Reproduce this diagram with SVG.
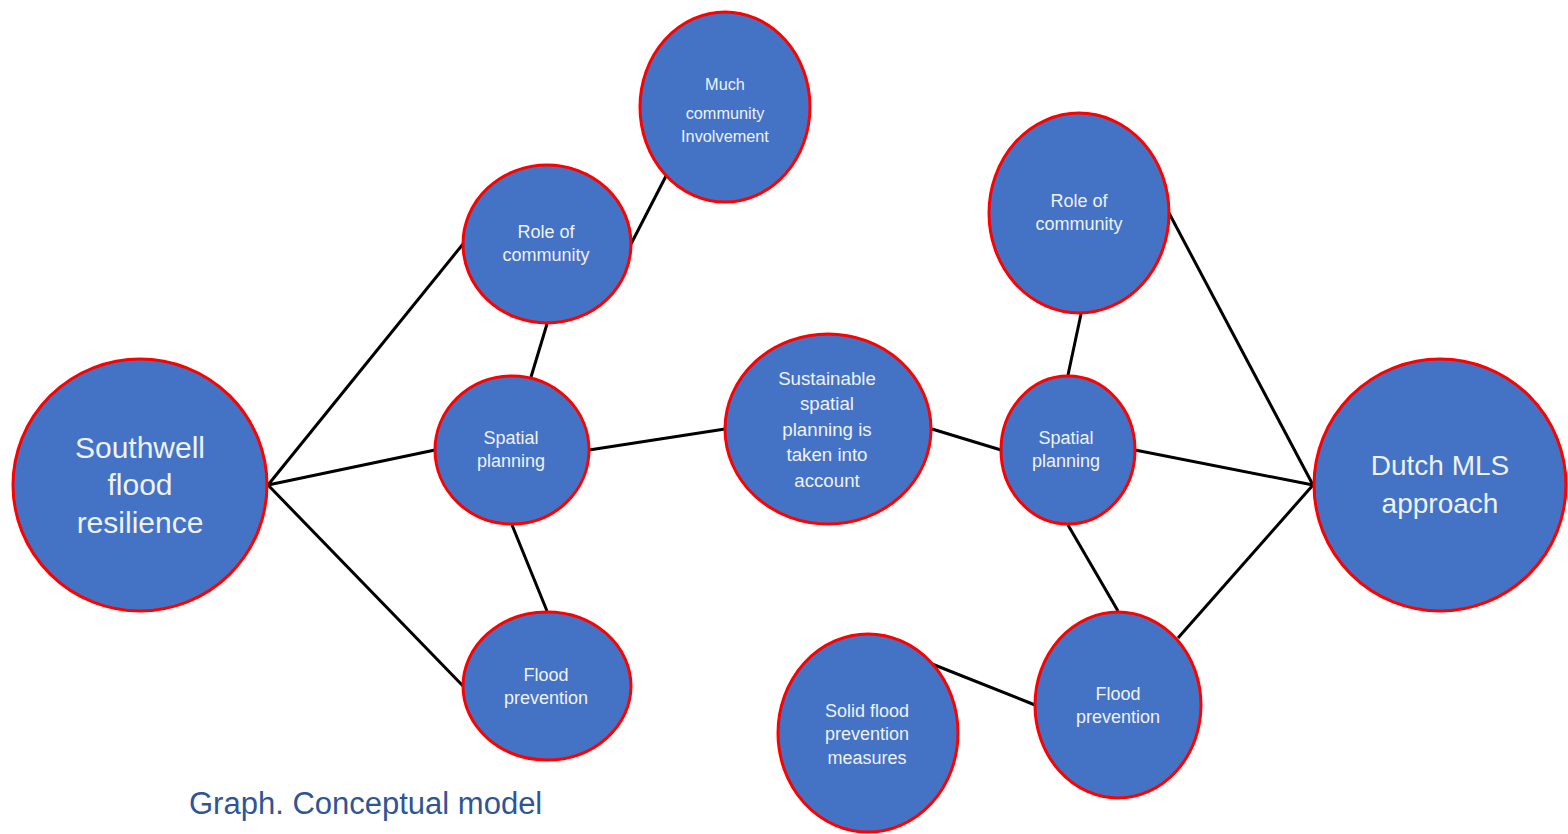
<svg xmlns="http://www.w3.org/2000/svg" width="1568" height="834" viewBox="0 0 1568 834">
<style>
.n{fill:#4472c4;stroke:#ff0000;stroke-width:3}
.t{font-family:"Liberation Sans",Arial,sans-serif;fill:#eef2fb;text-anchor:middle;dominant-baseline:central}
.e{stroke:#000;stroke-width:3;fill:none}
</style>
<rect width="1568" height="834" fill="#fff"/>
<g id="connectors">
<line class="e" x1="268" y1="485" x2="463" y2="244"/>
<line class="e" x1="268" y1="485" x2="435" y2="450"/>
<line class="e" x1="268" y1="485" x2="463" y2="686"/>
<line class="e" x1="631" y1="244" x2="666" y2="176"/>
<line class="e" x1="547" y1="324" x2="531" y2="377"/>
<line class="e" x1="512" y1="525" x2="547" y2="611"/>
<line class="e" x1="589" y1="450" x2="725" y2="429"/>
<line class="e" x1="932" y1="429" x2="1001" y2="450"/>
<line class="e" x1="1081" y1="314" x2="1068" y2="375"/>
<line class="e" x1="1169" y1="213" x2="1313" y2="485"/>
<line class="e" x1="1135" y1="450" x2="1313" y2="485"/>
<line class="e" x1="1068" y1="525" x2="1118" y2="611"/>
<line class="e" x1="1178" y1="638" x2="1313" y2="485"/>
<line class="e" x1="932" y1="664" x2="1035" y2="705"/>
</g>
<g id="southwell">
<ellipse class="n" cx="140" cy="485" rx="127" ry="126"/>
<text class="t" font-size="30"><tspan x="140" y="447">Southwell</tspan><tspan x="140" y="484">flood</tspan><tspan x="140" y="522">resilience</tspan></text>
</g>
<g id="role-left">
<ellipse class="n" cx="547" cy="244" rx="84" ry="79"/>
<text class="t" font-size="18"><tspan x="546" y="232">Role of</tspan><tspan x="546" y="255">community</tspan></text>
</g>
<g id="much-community">
<ellipse class="n" cx="725" cy="107" rx="85" ry="95"/>
<text class="t" font-size="16.3"><tspan x="725" y="84">Much</tspan><tspan x="725" y="113">community</tspan><tspan x="725" y="136">Involvement</tspan></text>
</g>
<g id="spatial-left">
<ellipse class="n" cx="512" cy="450" rx="77" ry="74"/>
<text class="t" font-size="18"><tspan x="511" y="438">Spatial</tspan><tspan x="511" y="461">planning</tspan></text>
</g>
<g id="flood-left">
<ellipse class="n" cx="547" cy="686" rx="84" ry="74"/>
<text class="t" font-size="18"><tspan x="546" y="675">Flood</tspan><tspan x="546" y="698">prevention</tspan></text>
</g>
<g id="sustainable">
<ellipse class="n" cx="828" cy="429" rx="103" ry="95"/>
<text class="t" font-size="18.7"><tspan x="827" y="378">Sustainable</tspan><tspan x="827" y="403">spatial</tspan><tspan x="827" y="429">planning is</tspan><tspan x="827" y="454">taken into</tspan><tspan x="827" y="480">account</tspan></text>
</g>
<g id="role-right">
<ellipse class="n" cx="1079" cy="213" rx="90" ry="100"/>
<text class="t" font-size="18"><tspan x="1079" y="201">Role of</tspan><tspan x="1079" y="224">community</tspan></text>
</g>
<g id="spatial-right">
<ellipse class="n" cx="1068" cy="450" rx="67" ry="74"/>
<text class="t" font-size="18"><tspan x="1066" y="438">Spatial</tspan><tspan x="1066" y="461">planning</tspan></text>
</g>
<g id="dutch-mls">
<ellipse class="n" cx="1440" cy="485" rx="126" ry="126"/>
<text class="t" font-size="28"><tspan x="1440" y="465">Dutch MLS</tspan><tspan x="1440" y="503">approach</tspan></text>
</g>
<g id="flood-right">
<ellipse class="n" cx="1118" cy="705" rx="83" ry="93"/>
<text class="t" font-size="18"><tspan x="1118" y="694">Flood</tspan><tspan x="1118" y="717">prevention</tspan></text>
</g>
<g id="solid-flood">
<ellipse class="n" cx="868" cy="733" rx="90" ry="99"/>
<text class="t" font-size="18"><tspan x="867" y="711">Solid flood</tspan><tspan x="867" y="734">prevention</tspan><tspan x="867" y="758">measures</tspan></text>
</g>
<text x="189" y="803" font-family="'Liberation Sans',Arial,sans-serif" font-size="31" fill="#2f5597" dominant-baseline="central">Graph. Conceptual model</text>
</svg>
